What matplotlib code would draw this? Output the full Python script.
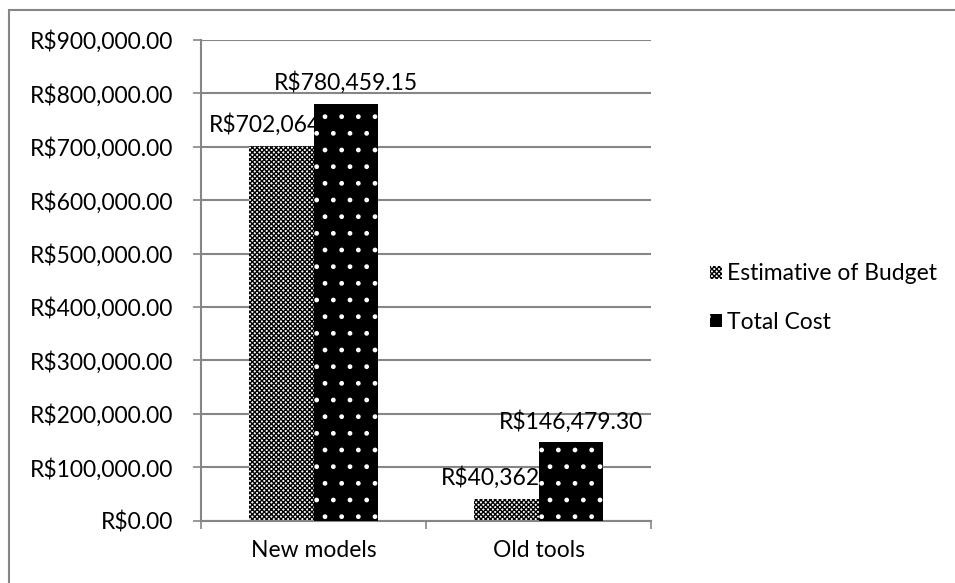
import matplotlib.pyplot as plt
import matplotlib.patches as patches
import numpy as np

categories = ['New models', 'Old tools']
series_names = ['Estimative of Budget', 'Total Cost']
budget = [702064.50, 40362.00]
total_cost = [780459.15, 146479.30]
y_ticks = [0, 100000, 200000, 300000, 400000, 500000, 600000, 700000, 800000, 900000]

plt.rcParams['font.family'] = ['Lato', 'DejaVu Sans']
plt.rcParams['hatch.linewidth'] = 1.0

W, H = 955, 583
grey = '#868686'
fs = 16.5


def money(v):
    return 'R$' + format(v, ',.2f')


fig = plt.figure(figsize=(W / 100, H / 100), dpi=100)
# plot area placed in pixels
ax = fig.add_axes([201 / W, (H - 520.6) / H, 450 / W, 480.6 / H])

# outer frame of the chart
frame = patches.Rectangle((8.5 / W, -0.05), 1.2, (H - 9.5) / H + 0.05,
                          transform=fig.transFigure, fill=False,
                          edgecolor=grey, linewidth=1.5, clip_on=False)
fig.patches.append(frame)

x = np.arange(len(categories))
w = 1 / 3.5  # gap width 150%

b1 = ax.bar(x - w / 2, budget, w, color='white', edgecolor='black', hatch='xxxxxxx',
            linewidth=0, zorder=2, label=series_names[0])
b2 = ax.bar(x + w / 2, total_cost, w, color='black', edgecolor='white', hatch='.',
            linewidth=0, zorder=4, label=series_names[1])

ax.bar_label(b1, labels=[money(v) for v in budget], padding=7, fontsize=fs, zorder=3)
ax.bar_label(b2, labels=[money(v) for v in total_cost], padding=7, fontsize=fs, zorder=5)

ax.set_xlim(-0.5, len(categories) - 0.5)
ax.set_ylim(0, 900000)
ax.set_yticks(y_ticks)
ax.set_yticklabels([money(v) for v in y_ticks])
ax.set_xticks(x)
ax.set_xticklabels(categories)
ax.set_xticks(np.arange(len(categories) + 1) - 0.5, minor=True)

ax.tick_params(axis='y', length=6, width=1.2, color=grey, pad=14, labelsize=fs)
ax.tick_params(axis='x', which='major', length=0, pad=14, labelsize=fs)
ax.tick_params(axis='x', which='minor', length=6, width=1.2, color=grey)

ax.grid(axis='y', color=grey, linewidth=1.5, zorder=0)
ax.set_axisbelow(True)
for s in ['top', 'right']:
    ax.spines[s].set_visible(False)
for s in ['left', 'bottom']:
    ax.spines[s].set_color(grey)
    ax.spines[s].set_linewidth(1.5)

fig.legend(handles=[b1, b2], loc='center left', bbox_to_anchor=(699 / W, (H - 298) / H),
           frameon=False, fontsize=fs, handlelength=0.5, handleheight=0.5,
           handletextpad=0.2, labelspacing=1.2, borderpad=0)

fig.savefig('out.png', dpi=100)
